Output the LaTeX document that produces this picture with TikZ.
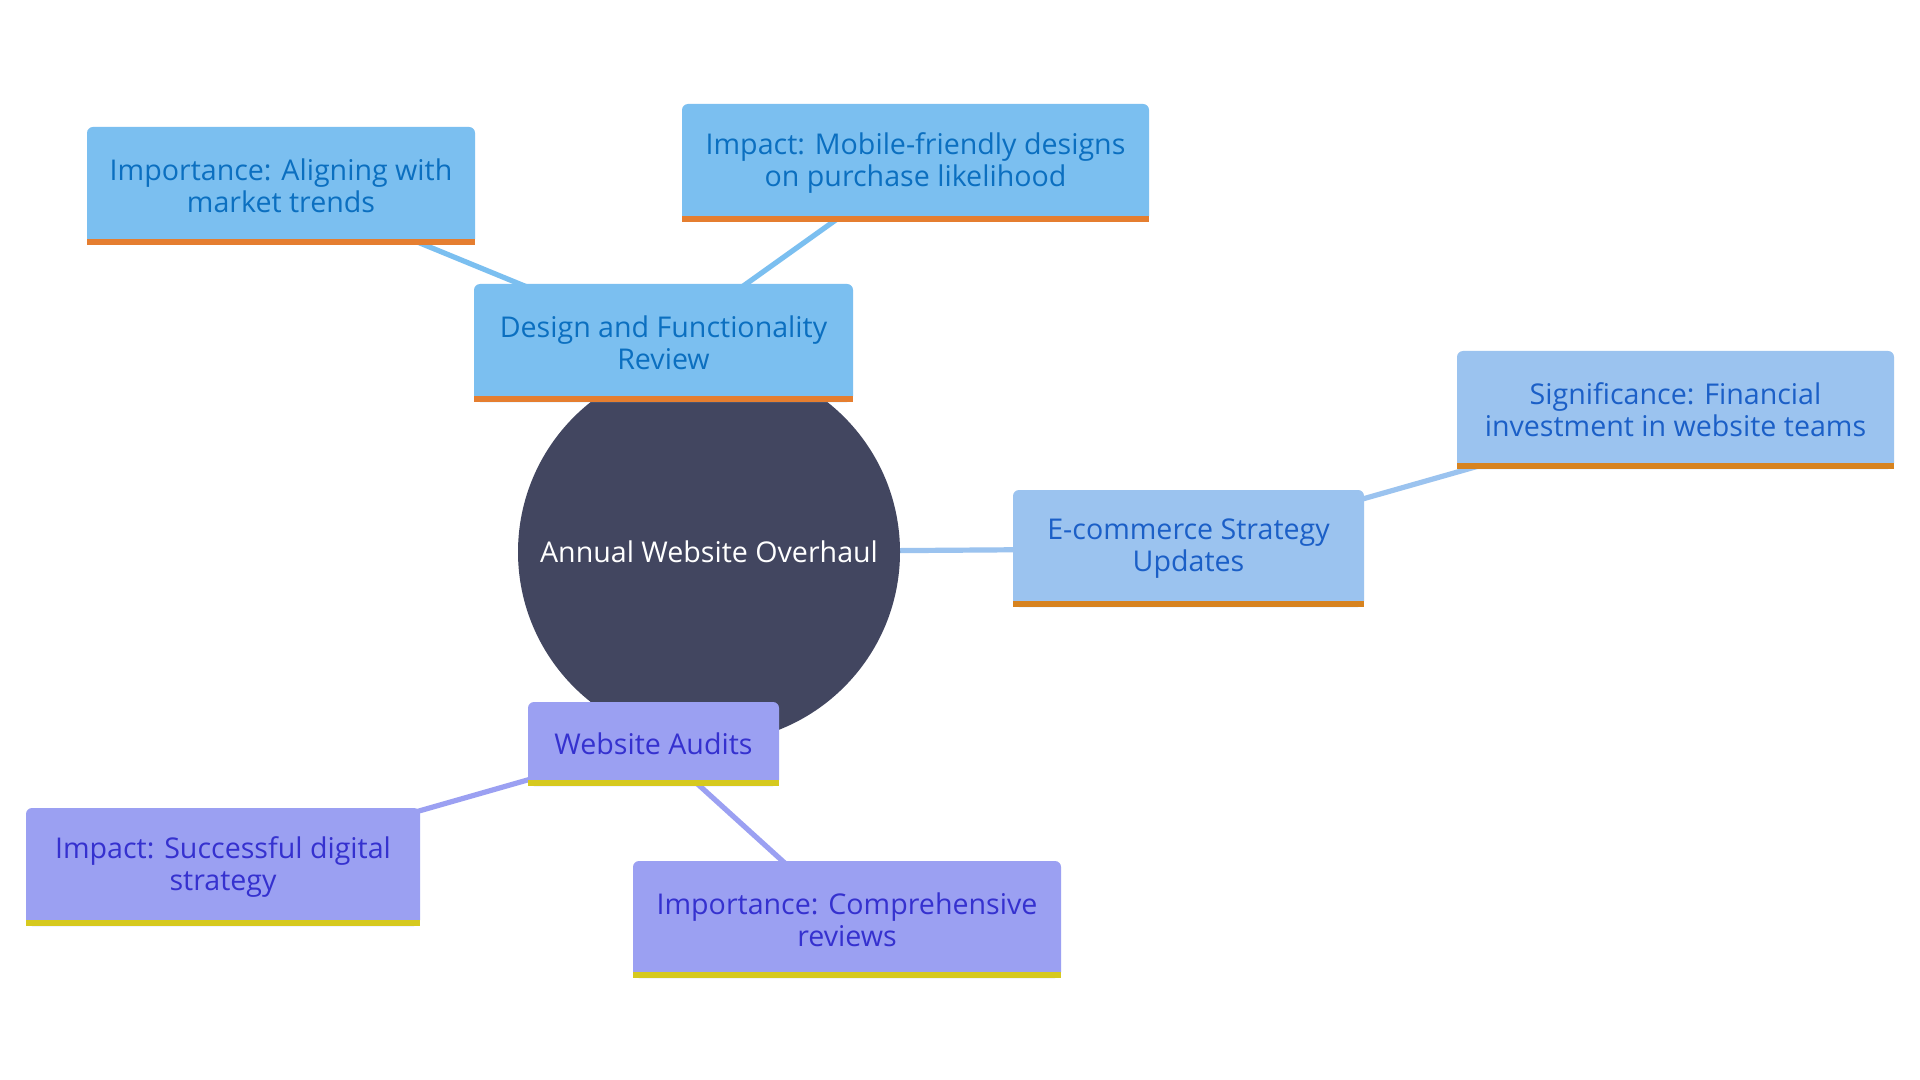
\documentclass[tikz,border=0pt]{standalone}
\usepackage{fontspec}
\setmainfont{Open Sans}
\usetikzlibrary{backgrounds}
\definecolor{rootc}{HTML}{424660}
\definecolor{fillA}{HTML}{7BBFF0}
\definecolor{textA}{HTML}{0B6FC0}
\definecolor{barA}{HTML}{E57E30}
\definecolor{fillB}{HTML}{9BC3EF}
\definecolor{textB}{HTML}{1B5FC7}
\definecolor{barB}{HTML}{D7831F}
\definecolor{fillC}{HTML}{9BA0F2}
\definecolor{textC}{HTML}{3531CF}
\definecolor{barC}{HTML}{D6C91F}
\begin{document}
\begin{tikzpicture}[x=0.5pt,y=-0.5pt,
  txt/.style={font=\fontsize{14.3}{16}\selectfont, align=center},
  box/.style n args={2}{txt, rounded corners=3pt, inner sep=0pt,
    minimum width=#1*0.5pt, minimum height=#2*0.5pt},
  grpA/.style={fill=fillA, text=textA},
  grpB/.style={fill=fillB, text=textB},
  grpC/.style={fill=fillC, text=textC},
  edgeA/.style={draw=fillA, line width=2.6pt},
  edgeB/.style={draw=fillB, line width=2.6pt},
  edgeC/.style={draw=fillC, line width=2.6pt},
  rootnode/.style={txt, circle, fill=rootc, text=white, inner sep=0pt,
    minimum size=191pt}]
\useasboundingbox (0,0) rectangle (1920,1080);

\node[rootnode] (root) at (709,552) {Annual Website Overhaul};

\node[box={379}{118}, grpA] (design) at (663.5,343) {Design and Functionality\\Review};
\node[box={388}{118}, grpA] (align) at (281,186) {Importance: Aligning with\\market trends};
\node[box={467}{118}, grpA] (mobile) at (915.5,163) {Impact: Mobile-friendly designs\\on purchase likelihood};

\node[box={351}{117}, grpB] (ecom) at (1188.5,548.5) {E-commerce Strategy\\Updates};
\node[box={437}{118}, grpB] (signif) at (1675.5,410) {Significance: Financial\\investment in website teams};

\node[box={251}{84}, grpC] (audits) at (653.5,744) {Website Audits};
\node[box={394}{118}, grpC] (success) at (223,867) {Impact: Successful digital\\strategy};
\node[box={428}{117}, grpC] (compre) at (847,919.5) {Importance: Comprehensive\\reviews};

\foreach \n/\c in {design/barA, align/barA, mobile/barA, ecom/barB, signif/barB,
                   audits/barC, success/barC, compre/barC}
  \fill[\c] ([yshift=3pt]\n.south west) rectangle (\n.south east);

\begin{scope}[on background layer]
  \fill[white] (0,0) rectangle (1920,1080);
  \draw[edgeA] (design.center) -- (align.center);
  \draw[edgeA] (design.center) -- (mobile.center);
  \draw[edgeB] (root.center) -- (ecom.center);
  \draw[edgeB] (ecom.center) -- (signif.center);
  \draw[edgeC] (audits.center) -- (success.center);
  \draw[edgeC] (audits.center) -- (compre.center);
\end{scope}
\end{tikzpicture}
\end{document}
